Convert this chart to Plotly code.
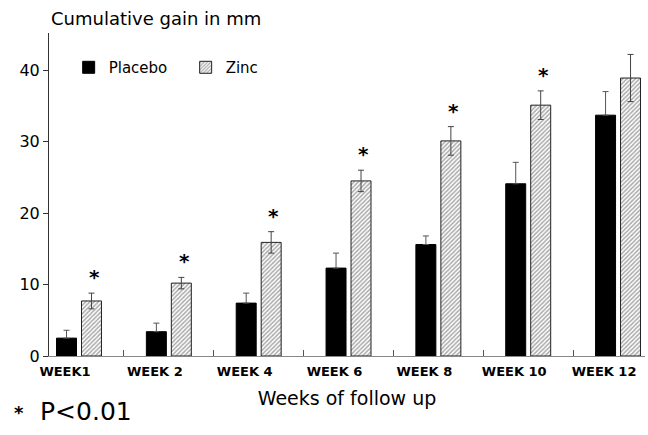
import plotly.graph_objects as go

weeks = ["WEEK1", "WEEK 2", "WEEK 4", "WEEK 6", "WEEK 8", "WEEK 10", "WEEK 12"]
placebo = [2.5, 3.4, 7.4, 12.3, 15.6, 24.1, 33.7]
placebo_err = [1.1, 1.2, 1.4, 2.1, 1.2, 3.0, 3.3]
zinc = [7.7, 10.2, 15.9, 24.5, 30.1, 35.1, 38.9]
zinc_err = [1.1, 0.8, 1.5, 1.5, 2.0, 2.0, 3.3]
significant = [True, True, True, True, True, True, False]

x = list(range(len(weeks)))
FONT = "DejaVu Sans"

fig = go.Figure()
fig.add_trace(go.Bar(
    x=x, y=placebo, name="Placebo",
    marker=dict(color="black", line=dict(color="black", width=1)),
    error_y=dict(type="data", array=placebo_err, arrayminus=[0] * len(x),
                 symmetric=False, color="#555555", thickness=1, width=3),
))
fig.add_trace(go.Bar(
    x=x, y=zinc, name="Zinc",
    marker=dict(color="white", line=dict(color="#222222", width=1),
                pattern=dict(shape="/", size=3, solidity=0.5,
                             fgcolor="#555555", bgcolor="white")),
    error_y=dict(type="data", array=zinc_err, color="#444444",
                 thickness=1, width=3),
))

for i, sig in enumerate(significant):
    if sig:
        fig.add_annotation(x=i + 0.17, y=zinc[i] + zinc_err[i], text="*",
                           showarrow=False, yanchor="bottom", yshift=2,
                           font=dict(family=FONT, size=20, color="black",
                                     weight="bold"))

fig.add_annotation(xref="paper", yref="paper", x=0, y=1, xanchor="left",
                   yanchor="bottom", yshift=2, text="Cumulative gain in mm",
                   showarrow=False, font=dict(family=FONT, size=18, color="black"))
fig.add_annotation(xref="paper", yref="paper", x=-0.062, y=0, xanchor="left",
                   yanchor="top", yshift=-44, text="*", showarrow=False,
                   font=dict(family=FONT, size=18, color="black", weight="bold"))
fig.add_annotation(xref="paper", yref="paper", x=-0.018, y=0, xanchor="left",
                   yanchor="top", yshift=-39, text="P<0.01", showarrow=False,
                   font=dict(family=FONT, size=25, color="black"))

fig.update_layout(
    width=648, height=435,
    margin=dict(l=49, r=3, t=33, b=79),
    plot_bgcolor="white", paper_bgcolor="white",
    barmode="group", bargap=0.444, bargroupgap=0.2,
    font=dict(family=FONT, color="black"),
    showlegend=True,
    legend=dict(orientation="h", x=0.033, y=0.893, xanchor="left", yanchor="middle",
                bgcolor="rgba(0,0,0,0)", font=dict(family=FONT, size=15),
                itemwidth=30, tracegroupgap=0, entrywidth=72, entrywidthmode="pixels"),
    xaxis=dict(
        range=[-0.334, 6.3], tickmode="array", tickvals=x, ticktext=weeks,
        ticks="", showgrid=False, zeroline=False,
        showline=True, linecolor="#888888", linewidth=1,
        tickfont=dict(family=FONT, size=13, weight="bold"),
        ticklabelshift=-14, ticklabelstandoff=3,
        minor=dict(tickmode="array", tickvals=[i + 0.5 for i in x[:-1]],
                   ticks="inside", ticklen=6, tickcolor="#555555", tickwidth=1),
        title=dict(text="Weeks of follow up", standoff=14,
                   font=dict(family=FONT, size=19)),
    ),
    yaxis=dict(
        range=[0, 45.2], tickmode="array", tickvals=[0, 10, 20, 30, 40],
        ticks="outside", ticklen=5, tickcolor="#333333",
        showgrid=False, zeroline=False,
        showline=True, linecolor="#333333", linewidth=1,
        tickfont=dict(family=FONT, size=16),
    ),
)

fig.write_html("out.html")
